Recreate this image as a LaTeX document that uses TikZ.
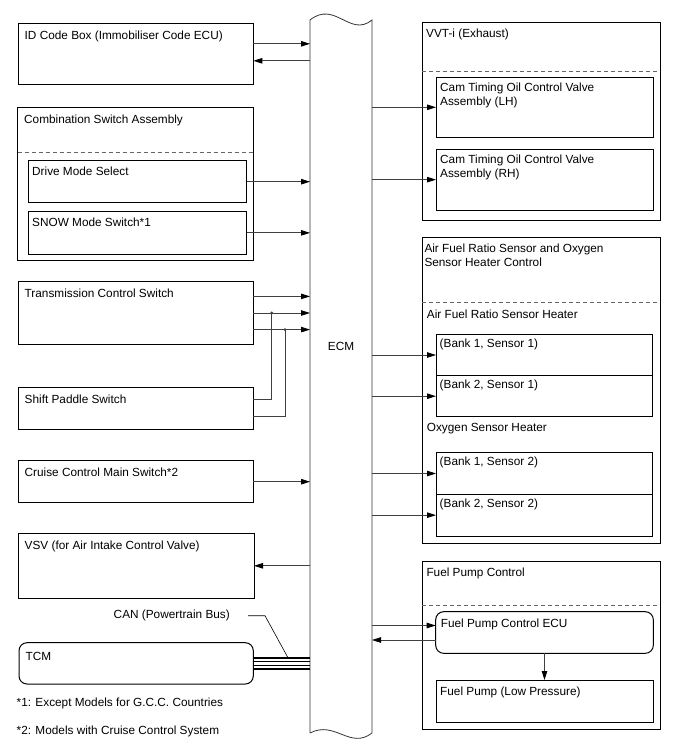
\documentclass[tikz,border=0pt]{standalone}
\usepackage{fontspec}
\setmainfont{Liberation Sans}
\usetikzlibrary{arrows.meta}

\tikzset{
  box/.style={draw, line width=1pt, anchor=north west, inner sep=0pt, outer sep=0pt},
  lbl/.style={anchor=north west, inner sep=0pt, align=left, xshift=6.5pt, yshift=-7.5pt},
  rlbl/.style={anchor=north west, inner sep=0pt, align=left, xshift=4pt, yshift=-6.5pt},
  blbl/.style={anchor=north west, inner sep=0pt, align=left, xshift=3.5pt, yshift=-4pt},
  txt/.style={anchor=west, inner sep=0pt},
  conn/.style={draw=black!75, line width=0.8pt, -{Triangle[length=9pt,width=5.5pt,color=black]}},
  wire/.style={draw=black!75, line width=0.8pt},
  sep/.style={draw=black!60, line width=0.8pt, dash pattern=on 4pt off 3pt},
  canthick/.style={draw=black, line width=1.8pt},
  canthin/.style={draw=black, line width=0.8pt}
}

\begin{document}
\begin{tikzpicture}[x=1pt, y=-1pt, font=\fontsize{11.8}{14}\selectfont]
\useasboundingbox (0,0) rectangle (688,755);

% ECM
\node[minimum width=62, inner sep=0pt, outer sep=0pt] (ecm) at (341,346.7) {ECM};
\draw[draw=black!80, line width=0.8pt] (310,733) -- (310,20) .. controls (335,0) and (350,38) .. (372,20)
  -- (372,733) .. controls (350,750) and (335,720) .. (310,733);

% left side
\node[box, minimum width=235.3, minimum height=61,
  label={[lbl]north west:ID Code Box (Immobiliser Code ECU)}] (idbox) at (18,23.3) {};
\node[box, minimum width=235.8, minimum height=153.4,
  label={[lbl]north west:Combination Switch Assembly}] (csa) at (17.5,107.3) {};
\draw[sep] (csa.west |- 0,152.3) -- (csa.east |- 0,152.3);
\node[box, minimum width=218.7, minimum height=42,
  label={[rlbl]north west:Drive Mode Select}] (dms) at (28,160.7) {};
\node[box, minimum width=218.7, minimum height=42.3,
  label={[rlbl]north west:SNOW Mode Switch*1}] (snow) at (28,211.7) {};
\node[box, minimum width=235.3, minimum height=63,
  label={[lbl]north west:Transmission Control Switch}] (tcs) at (18,281.5) {};
\node[box, minimum width=235.3, minimum height=42,
  label={[lbl]north west:Shift Paddle Switch}] (sps) at (18,387.3) {};
\node[box, minimum width=235.3, minimum height=42,
  label={[lbl]north west:Cruise Control Main Switch*2}] (ccms) at (18,460.7) {};
\node[box, minimum width=236, minimum height=65,
  label={[lbl]north west:VSV (for Air Intake Control Valve)}] (vsv) at (18,533.3) {};
\node[box, rounded corners=8pt, minimum width=234.3, minimum height=41.3,
  label={[lbl, yshift=-1.5pt]north west:TCM}] (tcm) at (19,642.7) {};

% right side
\node[box, minimum width=238, minimum height=197.3,
  label={[rlbl]north west:VVT-i (Exhaust)}] (vvt) at (422,22.7) {};
\draw[sep] (vvt.west |- 0,71) -- (vvt.east |- 0,71);
\node[box, minimum width=217, minimum height=60,
  label={[rlbl, yshift=1pt]north west:{Cam Timing Oil Control Valve\\Assembly (LH)}}] (camlh) at (436,77.3) {};
\node[box, minimum width=217, minimum height=60.7,
  label={[rlbl, yshift=1pt]north west:{Cam Timing Oil Control Valve\\Assembly (RH)}}] (camrh) at (436,149.3) {};

\node[box, minimum width=237.7, minimum height=306,
  label={[rlbl, xshift=-2pt]north west:{Air Fuel Ratio Sensor and Oxygen\\Sensor Heater Control}}] (afr) at (422.3,237.3) {};
\draw[sep] (afr.west |- 0,302.3) -- (afr.east |- 0,302.3);
\node[txt] (afrh) at (426.7,314) {Air Fuel Ratio Sensor Heater};
\node[box, minimum width=216.7, minimum height=41.4,
  label={[blbl]north west:{(Bank 1, Sensor 1)}}] (b11) at (436,334.3) {};
\node[box, minimum width=216.7, minimum height=41,
  label={[blbl]north west:{(Bank 2, Sensor 1)}}] (b21) at (436,375.7) {};
\node[txt] (osh) at (426.7,429) {Oxygen Sensor Heater};
\node[box, minimum width=216.7, minimum height=41.6,
  label={[blbl]north west:{(Bank 1, Sensor 2)}}] (b12) at (436,452.7) {};
\node[box, minimum width=216.7, minimum height=41.7,
  label={[blbl]north west:{(Bank 2, Sensor 2)}}] (b22) at (436,494.3) {};

\node[box, minimum width=237.7, minimum height=168.3,
  label={[rlbl]north west:Fuel Pump Control}] (fpc) at (422.3,561) {};
\draw[sep] (fpc.west |- 0,605) -- (fpc.east |- 0,605);
\node[box, rounded corners=8pt, minimum width=217.6, minimum height=41.6,
  label={[rlbl, xshift=1pt, yshift=-1pt]north west:Fuel Pump Control ECU}] (fpecu) at (435.7,611.7) {};
\node[box, minimum width=217, minimum height=42.3,
  label={[rlbl]north west:Fuel Pump (Low Pressure)}] (fp) at (436,680) {};

% footnotes and bus label
\node[txt] (fn1) at (16.5,703) {*1: Except Models for G.C.C. Countries};
\node[txt] (fn2) at (16.5,731.7) {*2: Models with Cruise Control System};
\node[anchor=east, inner sep=0pt] (canlbl) at (230,615.7) {CAN (Powertrain Bus)};

% connection points
\coordinate (id-out) at ([yshift=10pt]idbox.east);
\coordinate (id-in) at ([yshift=-7pt]idbox.east);
\coordinate (t1) at ([yshift=16.6pt]tcs.east);
\coordinate (t3) at ([yshift=-16.6pt]tcs.east);
\coordinate (s1) at ([yshift=9.3pt]sps.east);
\coordinate (s2) at ([yshift=-7.7pt]sps.east);
\coordinate (j1) at ([xshift=18.4pt]tcs.east);
\coordinate (j2) at ([xshift=31.7pt]t3);
\coordinate (c1) at ([yshift=5.6pt]tcm.east);
\coordinate (c2) at ([yshift=1.8pt]tcm.east);
\coordinate (c3) at ([yshift=-1.6pt]tcm.east);
\coordinate (c4) at ([yshift=-5.4pt]tcm.east);
\coordinate (canpt) at ([xshift=34.7pt]c1);
\coordinate (fe-in) at ([yshift=7pt]fpecu.west);
\coordinate (fe-out) at ([yshift=-7.5pt]fpecu.west);

% left connectors
\draw[conn] (id-out) -- (id-out -| ecm.west);
\draw[conn] (id-in -| ecm.west) -- (id-in);
\draw[conn] (dms.east) -- (dms.east -| ecm.west);
\draw[conn] (snow.east) -- (snow.east -| ecm.west);
\draw[conn] (t1) -- (t1 -| ecm.west);
\draw[conn] (tcs.east) -- (tcs.east -| ecm.west);
\draw[conn] (t3) -- (t3 -| ecm.west);
\draw[wire] (s1) -| (j1);
\draw[wire] (s2) -| (j2);
\fill[black!75] (j1) circle (1.6);
\fill[black!75] (j2) circle (1.6);
\draw[conn] (ccms.east) -- (ccms.east -| ecm.west);
\draw[conn] (vsv.east -| ecm.west) -- (vsv.east);

% CAN bus
\draw[canthick] (c1) -- (c1 -| ecm.west);
\draw[canthin] (c2) -- (c2 -| ecm.west);
\draw[canthin] (c3) -- (c3 -| ecm.west);
\draw[canthick] (c4) -- (c4 -| ecm.west);
\draw[line width=0.6pt] ([xshift=18pt]canlbl.east) -- ([xshift=35pt]canlbl.east) -- (canpt);

% right connectors
\draw[conn] (ecm.east |- camlh.west) -- (camlh.west);
\draw[conn] (ecm.east |- camrh.west) -- (camrh.west);
\draw[conn] (ecm.east |- b11.west) -- (b11.west);
\draw[conn] (ecm.east |- b21.west) -- (b21.west);
\draw[conn] (ecm.east |- b12.west) -- (b12.west);
\draw[conn] (ecm.east |- b22.west) -- (b22.west);
\draw[conn] (ecm.east |- fe-in) -- (fe-in);
\draw[conn] (fe-out) -- (ecm.east |- fe-out);
\draw[conn] (fpecu.south) -- (fp.north);
\end{tikzpicture}
\end{document}
